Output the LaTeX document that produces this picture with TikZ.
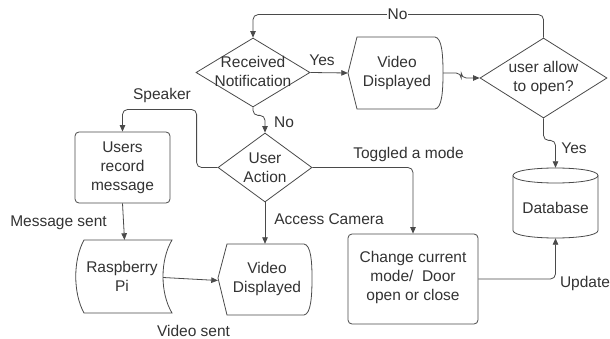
\documentclass[tikz,border=0pt]{standalone}
\usepackage{fontspec}
\setmainfont{Liberation Sans}
\usetikzlibrary{shapes.geometric,arrows.meta}
\definecolor{ln}{HTML}{4A4A4A}
\definecolor{tx}{HTML}{333333}
\begin{document}
\begin{tikzpicture}[x=1pt,y=-1pt,
  every node/.style={font=\fontsize{15.5}{19}\selectfont, text=tx},
  shp/.style={draw=ln, line width=0.8pt, fill=white},
  dec/.style={diamond, shp, inner sep=0pt},
  box/.style={rectangle, shp, rounded corners=4pt, inner sep=0pt},
  anchorbox/.style={rectangle, draw=none, inner sep=0pt},
  txt/.style={align=center},
  conn/.style={draw=ln, line width=0.8pt, rounded corners=5pt, -{Triangle[length=6.5pt,width=5.5pt]}},
  lbl/.style={inner sep=1pt}]
\useasboundingbox (0,0) rectangle (610,339);
\fill[white] (0,0) rectangle (610,339);

% Received Notification
\node[dec, minimum width=114pt, minimum height=69pt] (rn) at (253,72.5) {};
\node[txt] at (253,71) {Received\\Notification};

% Video Displayed (top)
\path[shp] (348,73) -- (357,37) -- (435,37) .. controls (442,38) and (443,55) .. (443,73)
  .. controls (443,91) and (442,108) .. (435,109) -- (357,109) -- cycle;
\node[anchorbox, minimum width=95pt, minimum height=72pt] (vd1) at (395.5,73) {};
\node[txt] at (397,73) {Video\\Displayed};

% user allow to open?
\node[dec, minimum width=127pt, minimum height=80pt] (ur) at (543.5,78) {};
\node[txt] at (543.5,78) {user allow\\to open?};

% User Action
\node[dec, minimum width=94pt, minimum height=69pt] (ua) at (265,167.5) {};
\node[txt] at (265,167.5) {User\\Action};

% Users record message
\node[box, minimum width=95pt, minimum height=71pt] (urm) at (122.5,167.5) {};
\node[txt] at (122.5,167.5) {Users\\record\\message};

% Raspberry Pi (stored data)
\path[shp] (84,240) -- (172,240) .. controls (160,260) and (160,293) .. (172,313)
  -- (84,313) .. controls (73,293) and (73,260) .. cycle;
\node[anchorbox, minimum width=95pt, minimum height=73pt] (rp) at (124.5,276.5) {};
\node[txt] at (122,276) {Raspberry\\Pi};

% Video Displayed (bottom)
\path[shp] (218,278) -- (227,244) -- (304,244) .. controls (311,245) and (312,262) .. (312,278)
  .. controls (312,296) and (311,314) .. (304,315) -- (227,315) -- cycle;
\node[anchorbox, minimum width=94pt, minimum height=71pt] (vd2) at (265,279.5) {};
\node[txt] at (267,279) {Video\\Displayed};

% Change current mode
\node[box, minimum width=130pt, minimum height=90pt] (ch) at (413,279) {};
\node[txt] at (413,277) {Change current\\mode/\ \ Door\\open or close};

% Database
\path[shp] (513,175.5) -- (513,230.5) .. controls (513,240.5) and (598,240.5) .. (598,230.5)
  -- (598,175.5) .. controls (598,165.5) and (513,165.5) .. cycle;
\draw[draw=ln, line width=0.8pt] (513,175.5) .. controls (513,185.5) and (598,185.5) .. (598,175.5);
\node[anchorbox, minimum width=85pt, minimum height=70pt] (db) at (555.5,203) {};
\node[txt] at (555.5,208) {Database};

% connectors
\draw[conn] (rn.east) -- (vd1.west);
\draw[conn] (vd1.east) -- ++(18,0) |- (ur.west);
\draw[conn] (ur.north) -- ++(0,-23) -| (rn.north);
\draw[conn] (ur.south) -- ++(0,22) -| (db.north);
\draw[conn] (rn.south) -- ++(0,8) -| (ua.north);
\draw[conn] (ua.west) -- ++(-21,0) -- ++(0,-58) -| (urm.north);
\draw[conn] (urm.south) -- (rp.north);
\draw[conn] ([xshift=-9pt,yshift=-1pt]rp.east) -- ([yshift=-1pt]vd2.west);
\draw[conn] (ua.south) -- (vd2.north);
\draw[conn] (ua.east) -| (ch.north);
\draw[conn] (ch.east) -| (db.south);

% labels
\node[lbl] (lyes1) at (322,60) {Yes};
\node[lbl, fill=white] (lno1) at (397.5,14) {No};
\node[lbl] (lno2) at (284,122) {No};
\node[lbl] (lyes2) at (574,148) {Yes};
\node[lbl] (lspk) at (162,95) {Speaker};
\node[lbl] (lmsg) at (58.5,223) {Message sent};
\node[lbl] (lacc) at (329,219) {Access Camera};
\node[lbl] (ltog) at (408.5,154) {Toggled a mode};
\node[lbl] (lupd) at (585,283) {Update};
\node[lbl] (lvid) at (193.5,331) {Video sent};
\end{tikzpicture}
\end{document}
